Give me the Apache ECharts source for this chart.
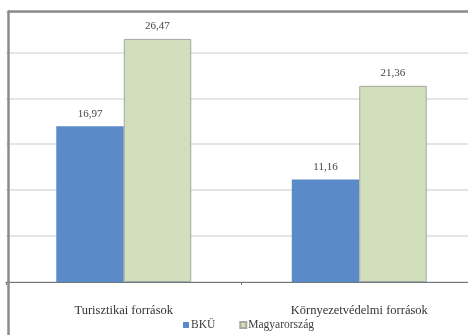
<!DOCTYPE html>
<html>
<head>
<meta charset="utf-8">
<script src="https://cdn.jsdelivr.net/npm/echarts@6/dist/echarts.min.js"></script>
<style>
  html, body { margin: 0; padding: 0; background: #fff; }
  #chart { width: 468px; height: 335px; }
</style>
</head>
<body>
<div id="chart"></div>
<script>
var categories = ['Turisztikai források', 'Környezetvédelmi források'];
var bkuValues = [16.97, 11.16];
var huValues = [26.47, 21.36];
var seriesNames = ['BKÜ', 'Magyarország'];

var fmt = function (p) { return p.value.toFixed(2).replace('.', ','); };
var font = '"Liberation Serif", "DejaVu Serif", serif';

var myChart = echarts.init(document.getElementById('chart'));
var option = {
    animation: false,
    backgroundColor: '#fff',
    textStyle: { fontFamily: font },
    grid: { left: 6, width: 471, top: 12, bottom: 53, outerBoundsMode: 'none', containLabel: false },
    legend: {
        data: seriesNames,
        bottom: -1,
        left: 178,
        itemWidth: 6,
        itemHeight: 6,
        itemGap: 24,
        textStyle: { fontFamily: font, fontSize: 11.5, color: '#404040', padding: [0, 0, 0, -3] },
        icon: 'rect'
    },
    xAxis: {
        type: 'category',
        data: categories,
        axisLine: { lineStyle: { color: '#6f757d', width: 1.2 } },
        axisTick: { show: true, length: 3, lineStyle: { color: '#6f757d' } },
        axisLabel: { fontFamily: font, fontSize: 12.5, color: '#333', margin: 22 }
    },
    yAxis: {
        type: 'value',
        min: 0,
        max: 29.4,
        interval: 5,
        axisLabel: { show: false },
        axisLine: { show: false },
        axisTick: { show: false },
        splitLine: { lineStyle: { color: '#dcdcdc', width: 1.5 } }
    },
    series: [{
        name: seriesNames[0],
        type: 'bar',
        data: bkuValues,
        barGap: '0%',
        barCategoryGap: '42.7%',
        itemStyle: { color: '#5b8ac8' },
        label: { show: true, position: 'top', formatter: fmt, fontFamily: font, fontSize: 11, color: '#444', distance: 7 }
    }, {
        name: seriesNames[1],
        type: 'bar',
        data: huValues,
        itemStyle: { color: '#d2dfbd', borderColor: '#a4a8a0', borderWidth: 1 },
        label: { show: true, position: 'top', formatter: fmt, fontFamily: font, fontSize: 11, color: '#444', distance: 7 }
    }],
    graphic: [{
        type: 'line',
        shape: { x1: 8, y1: 11.5, x2: 468, y2: 11.5 },
        style: { stroke: '#8c8c8c', lineWidth: 2.5 },
        z: 100
    }, {
        type: 'line',
        shape: { x1: 8.5, y1: 10.5, x2: 8.5, y2: 335 },
        style: { stroke: '#8c8c8c', lineWidth: 2.5 },
        z: 100
    }]
};
myChart.setOption(option);
</script>
</body>
</html>
